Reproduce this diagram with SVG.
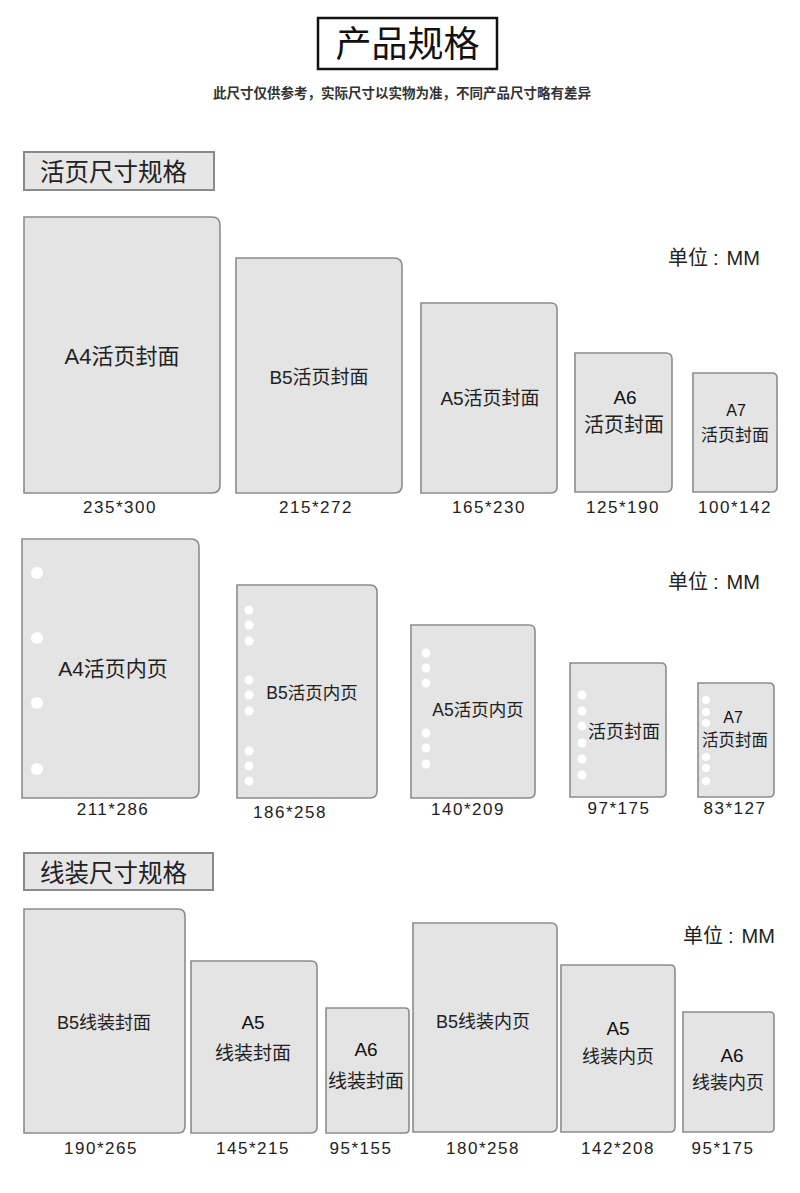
<svg xmlns="http://www.w3.org/2000/svg" width="800" height="1193" viewBox="0 0 800 1193">
<style>
.t{font-family:"Liberation Sans","Noto Sans CJK SC",sans-serif;fill:#222;text-anchor:middle;dominant-baseline:central}
.tag{fill:#111}
.dim{font-size:17px;letter-spacing:1.5px}
.card{fill:#e4e4e4;stroke:#8c8c8c;stroke-width:1.6}
.hole{fill:#fff}
.hdr{fill:#e6e6e6;stroke:#8a8a8a;stroke-width:2}
.unit{font-family:"Liberation Sans","Noto Sans CJK SC",sans-serif;fill:#222;font-size:20px;dominant-baseline:central}
</style>
<rect width="800" height="1193" fill="#fff"/>
<g id="title">
<rect x="318" y="18" width="179" height="51" fill="#fff" stroke="#111" stroke-width="2.5"/>
<text class="t" x="407.5" y="44" style="font-size:36px;fill:#111">产品规格</text>
<text class="t" x="402" y="93" style="font-size:13.5px;font-weight:bold;fill:#333">此尺寸仅供参考，实际尺寸以实物为准，不同产品尺寸略有差异</text>
</g>
<g id="header-1">
<rect class="hdr" x="24" y="152" width="190" height="38"/>
<text class="t" x="40" y="172" style="font-size:24.5px;text-anchor:start">活页尺寸规格</text>
</g>
<g id="header-3">
<rect class="hdr" x="24" y="853" width="189" height="37"/>
<text class="t" x="40" y="873" style="font-size:24.5px;text-anchor:start">线装尺寸规格</text>
</g>
<g id="units">
<text class="unit" x="668" y="258">单位<tspan dx="5">:</tspan><tspan dx="8">MM</tspan></text>
<text class="unit" x="668" y="582">单位<tspan dx="5">:</tspan><tspan dx="8">MM</tspan></text>
<text class="unit" x="683" y="936">单位<tspan dx="5">:</tspan><tspan dx="8">MM</tspan></text>
</g>
<g id="connectors"></g>
<!-- Section 1 -->
<g id="a4-cover">
<path class="card" d="M24 217 H212 Q220 217 220 225 V485 Q220 493 212 493 H24 Z"/>
<text class="t" x="122" y="356" style="font-size:22px">A4活页封面</text>
<text class="t dim" x="120" y="507">235*300</text>
</g>
<g id="b5-cover">
<path class="card" d="M236 258 H394 Q402 258 402 266 V485 Q402 493 394 493 H236 Z"/>
<text class="t" x="319" y="377" style="font-size:19px">B5活页封面</text>
<text class="t dim" x="316" y="507">215*272</text>
</g>
<g id="a5-cover">
<path class="card" d="M421 303 H551 Q557 303 557 309 V487 Q557 493 551 493 H421 Z"/>
<text class="t" x="490" y="398" style="font-size:19px">A5活页封面</text>
<text class="t dim" x="489" y="507">165*230</text>
</g>
<g id="a6-cover">
<path class="card" d="M575 353 H666 Q672 353 672 359 V486 Q672 492 666 492 H575 Z"/>
<text class="t tag" x="625" y="397" style="font-size:19px">A6</text>
<text class="t" x="624" y="425" style="font-size:20px">活页封面</text>
<text class="t dim" x="623" y="507">125*190</text>
</g>
<g id="a7-cover">
<path class="card" d="M693 373 H772 Q777 373 777 378 V487 Q777 492 772 492 H693 Z"/>
<text class="t tag" x="736" y="410" style="font-size:16px">A7</text>
<text class="t" x="735" y="435" style="font-size:17px">活页封面</text>
<text class="t dim" x="735" y="507">100*142</text>
</g>
<!-- Section 2 -->
<g id="a4-inner">
<path class="card" d="M22 539 H191 Q199 539 199 547 V790 Q199 798 191 798 H22 Z"/>
<circle class="hole" cx="37" cy="573" r="6"/>
<circle class="hole" cx="37" cy="638" r="6"/>
<circle class="hole" cx="37" cy="703" r="6"/>
<circle class="hole" cx="37" cy="769" r="6"/>
<text class="t" x="113" y="668" style="font-size:21px">A4活页内页</text>
<text class="t dim" x="113" y="809">211*286</text>
</g>
<g id="b5-inner">
<path class="card" d="M237 585 H370 Q377 585 377 592 V791 Q377 798 370 798 H237 Z"/>
<circle class="hole" cx="249" cy="610" r="4.5"/>
<circle class="hole" cx="249" cy="625" r="4.5"/>
<circle class="hole" cx="249" cy="641" r="4.5"/>
<circle class="hole" cx="249" cy="680" r="4.5"/>
<circle class="hole" cx="249" cy="695" r="4.5"/>
<circle class="hole" cx="249" cy="711" r="4.5"/>
<circle class="hole" cx="249" cy="751" r="4.5"/>
<circle class="hole" cx="249" cy="766" r="4.5"/>
<circle class="hole" cx="249" cy="781" r="4.5"/>
<text class="t" x="312" y="693" style="font-size:17.5px">B5活页内页</text>
<text class="t dim" x="290" y="812">186*258</text>
</g>
<g id="a5-inner">
<path class="card" d="M411 625 H529 Q535 625 535 631 V792 Q535 798 529 798 H411 Z"/>
<circle class="hole" cx="426" cy="653" r="4.5"/>
<circle class="hole" cx="426" cy="668" r="4.5"/>
<circle class="hole" cx="426" cy="683" r="4.5"/>
<circle class="hole" cx="426" cy="733" r="4.5"/>
<circle class="hole" cx="426" cy="748" r="4.5"/>
<circle class="hole" cx="426" cy="764" r="4.5"/>
<text class="t" x="478" y="710" style="font-size:17.5px">A5活页内页</text>
<text class="t dim" x="468" y="809">140*209</text>
</g>
<g id="a6-inner">
<path class="card" d="M570 663 H661 Q666 663 666 668 V792 Q666 797 661 797 H570 Z"/>
<circle class="hole" cx="582" cy="695" r="4.5"/>
<circle class="hole" cx="582" cy="711" r="4.5"/>
<circle class="hole" cx="582" cy="726" r="4.5"/>
<circle class="hole" cx="582" cy="743" r="4.5"/>
<circle class="hole" cx="582" cy="759" r="4.5"/>
<circle class="hole" cx="582" cy="775" r="4.5"/>
<text class="t" x="624" y="732" style="font-size:18px">活页封面</text>
<text class="t dim" x="619" y="808">97*175</text>
</g>
<g id="a7-inner">
<path class="card" d="M698 683 H769 Q774 683 774 688 V792 Q774 797 769 797 H698 Z"/>
<circle class="hole" cx="706" cy="700" r="4"/>
<circle class="hole" cx="706" cy="712" r="4"/>
<circle class="hole" cx="706" cy="723" r="4"/>
<circle class="hole" cx="706" cy="757" r="4"/>
<circle class="hole" cx="706" cy="768" r="4"/>
<circle class="hole" cx="706" cy="781" r="4"/>
<text class="t tag" x="733" y="717" style="font-size:16px">A7</text>
<text class="t" x="735" y="740" style="font-size:16.5px">活页封面</text>
<text class="t dim" x="735" y="808">83*127</text>
</g>
<!-- Section 3 -->
<g id="b5-sewn-cover">
<path class="card" d="M24 909 H178 Q185 909 185 916 V1126 Q185 1133 178 1133 H24 Z"/>
<text class="t" x="104" y="1023" style="font-size:18px">B5线装封面</text>
<text class="t dim" x="101" y="1148">190*265</text>
</g>
<g id="a5-sewn-cover">
<path class="card" d="M191 961 H311 Q317 961 317 967 V1127 Q317 1133 311 1133 H191 Z"/>
<text class="t tag" x="253" y="1022" style="font-size:19px">A5</text>
<text class="t" x="253" y="1053" style="font-size:19px">线装封面</text>
<text class="t dim" x="253" y="1148">145*215</text>
</g>
<g id="a6-sewn-cover">
<path class="card" d="M326 1008 H405 Q409 1008 409 1012 V1129 Q409 1133 405 1133 H326 Z"/>
<text class="t tag" x="366" y="1049" style="font-size:19px">A6</text>
<text class="t" x="366" y="1081" style="font-size:19px">线装封面</text>
<text class="t dim" x="361" y="1148">95*155</text>
</g>
<g id="b5-sewn-inner">
<path class="card" d="M413 923 H551 Q557 923 557 929 V1126 Q557 1132 551 1132 H413 Z"/>
<text class="t" x="483" y="1022" style="font-size:18px">B5线装内页</text>
<text class="t dim" x="483" y="1148">180*258</text>
</g>
<g id="a5-sewn-inner">
<path class="card" d="M561 965 H670 Q675 965 675 970 V1127 Q675 1132 670 1132 H561 Z"/>
<text class="t tag" x="618" y="1028" style="font-size:19px">A5</text>
<text class="t" x="618" y="1057" style="font-size:18px">线装内页</text>
<text class="t dim" x="618" y="1148">142*208</text>
</g>
<g id="a6-sewn-inner">
<path class="card" d="M683 1012 H770 Q774 1012 774 1016 V1128 Q774 1132 770 1132 H683 Z"/>
<text class="t tag" x="732" y="1055" style="font-size:19px">A6</text>
<text class="t" x="728" y="1083" style="font-size:18px">线装内页</text>
<text class="t dim" x="723" y="1148">95*175</text>
</g>
</svg>
